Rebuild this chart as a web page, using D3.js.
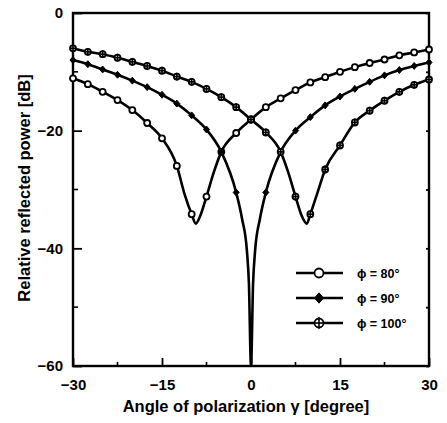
<!DOCTYPE html>
<html>
<head>
<meta charset="utf-8">
<script src="https://cdn.jsdelivr.net/npm/d3@7"></script>
<style>
  html, body { margin: 0; padding: 0; background: #fff; }
  text { font-family: "Liberation Sans", Arial, sans-serif; font-weight: bold; fill: #000; }
</style>
</head>
<body>
<svg id="chart" width="447" height="423"></svg>
<script>
// angles where the markers sit (degree)
const markerAngles = [-30, -27.5, -25, -22.5, -20, -17.5, -15, -12.5, -10, -7.5, -5, -2.5,
  0, 2.5, 5, 7.5, 10, 12.5, 15, 17.5, 20, 22.5, 25, 27.5, 30];

// [angle, dB]
const phi80 = [
  [-30, -11.1], [-27.5, -12.1], [-25, -13.4], [-22.5, -14.8], [-20, -16.5], [-17.5, -18.7],
  [-15, -21.3], [-12.5, -26.0], [-11.25, -30.6], [-10, -34.2], [-9.3, -35.8], [-8.6, -34.6],
  [-7.5, -31.2], [-6.25, -27.0], [-5, -23.6], [-2.5, -20.4], [0, -18.1], [2.5, -16.0],
  [5, -14.5], [7.5, -13.1], [10, -11.8], [12.5, -10.9], [15, -10.0], [17.5, -9.2],
  [20, -8.5], [22.5, -7.9], [25, -7.2], [27.5, -6.7], [30, -6.2]
];
const phi90 = [
  [-30, -8.0], [-27.5, -8.7], [-25, -9.6], [-22.5, -10.5], [-20, -11.5], [-17.5, -12.6],
  [-15, -13.9], [-12.5, -15.4], [-10, -17.4], [-7.5, -19.8], [-5, -23.6], [-2.5, -30.5],
  [-1.5, -35.0], [-0.7, -40.3], [-0.35, -46.0], [0, -60], [0.35, -46.0], [0.7, -40.3],
  [1.5, -35.0], [2.5, -30.5], [5, -23.6], [7.5, -20.0], [10, -17.7], [12.5, -15.7],
  [15, -14.2], [17.5, -12.9], [20, -11.7], [22.5, -10.6], [25, -9.7], [27.5, -9.0], [30, -8.4]
];
const phi100 = [
  [-30, -6.0], [-27.5, -6.6], [-25, -7.0], [-22.5, -7.6], [-20, -8.3], [-17.5, -9.0],
  [-15, -9.8], [-12.5, -10.8], [-10, -11.7], [-7.5, -12.9], [-5, -14.3], [-2.5, -16.0],
  [0, -18.1], [2.5, -20.3], [5, -23.6], [6.25, -27.0], [7.5, -31.2], [8.6, -34.6],
  [9.4, -35.8], [10, -34.2], [11.25, -30.4], [12.5, -26.6], [15, -22.5], [17.5, -18.6],
  [20, -16.6], [22.5, -14.9], [25, -13.4], [27.5, -12.2], [30, -11.3]
];

const seriesNames = ["\u03d5 = 80\u00b0", "\u03d5 = 90\u00b0", "\u03d5 = 100\u00b0"];
const xTicks = [-30, -15, 0, 15, 30];
const xMinor = [-22.5, -7.5, 7.5, 22.5];
const yTicks = [0, -20, -40, -60];
const yMinor = [-10, -30, -50];

const svg = d3.select("#chart");
const plotLeft = 73, plotRight = 429, plotTop = 13, plotBottom = 366;

const x = d3.scaleLinear().domain([-30, 30]).range([plotLeft, plotRight]);
const y = d3.scaleLinear().domain([0, -60]).range([plotTop, plotBottom]);

// frame
svg.append("rect")
  .attr("x", plotLeft).attr("y", plotTop)
  .attr("width", plotRight - plotLeft).attr("height", plotBottom - plotTop)
  .attr("fill", "none").attr("stroke", "#000").attr("stroke-width", 2.4);

// ticks point into the plot
const bottomAxis = svg.append("g").attr("transform", `translate(0,${plotBottom})`)
  .call(d3.axisBottom(x).tickValues(xTicks).tickSize(-8).tickPadding(13).tickFormat(d3.format("d")));
bottomAxis.selectAll(".tick text").attr("font-size", 15).attr("font-family", null);
bottomAxis.append("g").selectAll("line").data(xMinor).join("line")
  .attr("x1", d => x(d)).attr("x2", d => x(d)).attr("y1", 0).attr("y2", -4)
  .attr("stroke", "#000").attr("stroke-width", 1.6);

const leftAxis = svg.append("g").attr("transform", `translate(${plotLeft},0)`)
  .call(d3.axisLeft(y).tickValues(yTicks).tickSize(-9).tickPadding(10).tickFormat(d3.format("d")));
leftAxis.selectAll(".tick text").attr("font-size", 15).attr("font-family", null);
leftAxis.append("g").selectAll("line").data(yMinor).join("line")
  .attr("x1", 0).attr("x2", 5).attr("y1", d => y(d)).attr("y2", d => y(d))
  .attr("stroke", "#000").attr("stroke-width", 1.6);

const rightAxis = svg.append("g").attr("transform", `translate(${plotRight},0)`)
  .call(d3.axisRight(y).tickValues(yTicks.concat(yMinor)).tickSize(-3).tickFormat(""));

[bottomAxis, leftAxis, rightAxis].forEach(g => {
  g.select(".domain").remove();
  g.selectAll(".tick line").attr("stroke-width", 1.8);
});

// axis titles
svg.append("text")
  .attr("x", 246).attr("y", 412)
  .attr("text-anchor", "middle").attr("font-size", 16.5)
  .text("Angle of polarization \u03b3 [degree]");
svg.append("text")
  .attr("transform", "translate(30,188) rotate(-90)")
  .attr("text-anchor", "middle").attr("font-size", 16.5)
  .text("Relative reflected power [dB]");

// markers
function drawMarker(g, kind, r) {
  if (kind === 1) {
    g.append("path")
      .attr("d", `M0,${-r * 1.15}L${r},0L0,${r * 1.15}L${-r},0Z`)
      .attr("fill", "#000").attr("stroke", "#000").attr("stroke-width", 1);
  } else {
    g.append("circle").attr("r", r)
      .attr("fill", "#fff").attr("stroke", "#000").attr("stroke-width", 1.8);
    if (kind === 2) {
      g.append("line").attr("x1", 0).attr("x2", 0).attr("y1", -r * 1.3).attr("y2", r * 1.3)
        .attr("stroke", "#000").attr("stroke-width", 1.6);
      g.append("line").attr("x1", -r).attr("x2", r).attr("y1", 0).attr("y2", 0)
        .attr("stroke", "#000").attr("stroke-width", 1.6);
    }
  }
}

const line = d3.line()
  .x(d => x(d[0])).y(d => y(d[1]))
  .curve(d3.curveMonotoneX);

const series = [phi80, phi90, phi100];
const plot = svg.append("g");

series.forEach(data => {
  plot.append("path").datum(data)
    .attr("d", line)
    .attr("fill", "none").attr("stroke", "#000").attr("stroke-width", 2.6);
});

series.forEach((data, i) => {
  const pts = data.filter(d => markerAngles.includes(d[0]) && d[1] > -55);
  plot.append("g").selectAll("g").data(pts).join("g")
    .attr("transform", d => `translate(${x(d[0])},${y(d[1])})`)
    .each(function () { drawMarker(d3.select(this), i, 3); });
});

// legend
const legend = svg.append("g");
seriesNames.forEach((name, i) => {
  const ly = 273 + i * 25;
  legend.append("line")
    .attr("x1", 296).attr("x2", 343).attr("y1", ly).attr("y2", ly)
    .attr("stroke", "#000").attr("stroke-width", 2.6);
  const m = legend.append("g").attr("transform", `translate(319,${ly})`);
  drawMarker(m, i, 4.5);
  legend.append("text")
    .attr("x", 357).attr("y", ly + 4.5)
    .attr("font-size", 12.5)
    .text(name);
});
</script>
</body>
</html>
